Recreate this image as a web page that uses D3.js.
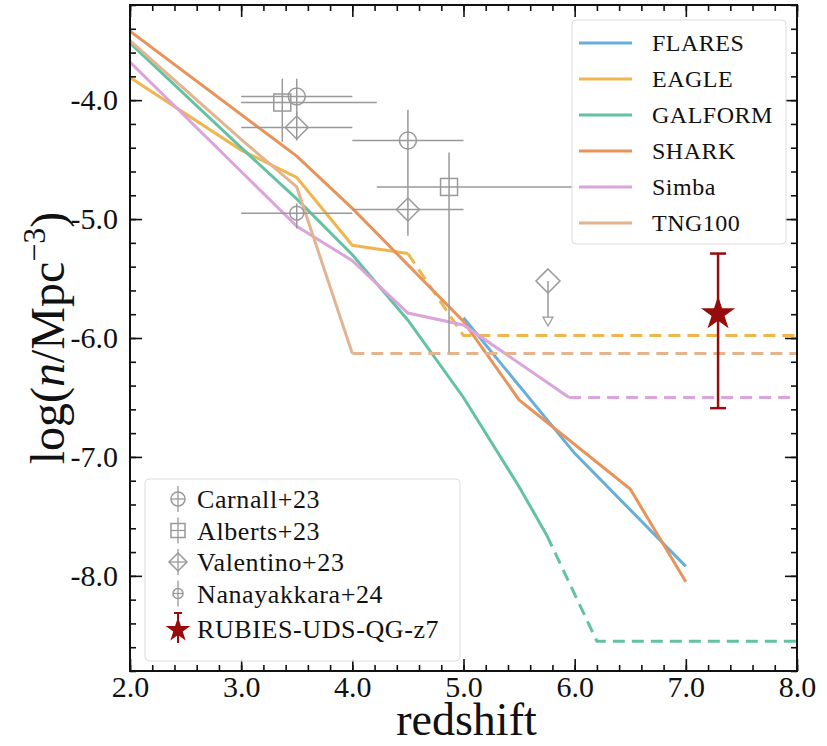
<!DOCTYPE html>
<html>
<head>
<meta charset="utf-8">
<script src="https://cdn.jsdelivr.net/npm/d3@7"></script>
<style>
  body { margin: 0; background: #fff; }
  text { font-family: "Liberation Serif", "Times New Roman", serif; fill: #111; }
</style>
</head>
<body>
<div id="chart"></div>
<script>
//// data (redshift, log n)
var flaresZ = [5.0, 6.0, 7.0];
var flaresV = [-5.83, -6.97, -7.92];

var eagleZ = [2.0, 3.0, 3.5, 4.0, 4.5];
var eagleV = [-3.81, -4.42, -4.65, -5.22, -5.29];
var eagleDashZ = [4.5, 5.0, 8.0];
var eagleDashV = [-5.29, -5.98, -5.98];

var galformZ = [2.0, 3.0, 3.5, 4.0, 4.5, 5.0, 5.5, 5.75];
var galformV = [-3.52, -4.40, -4.83, -5.30, -5.85, -6.50, -7.25, -7.66];
var galformDashZ = [5.75, 6.2, 8.0];
var galformDashV = [-7.66, -8.55, -8.55];

var sharkZ = [2.0, 3.5, 4.0, 5.0, 5.5, 6.5, 7.0];
var sharkV = [-3.42, -4.47, -4.91, -5.86, -6.52, -7.27, -8.05];

var simbaZ = [2.0, 3.0, 3.5, 4.0, 4.5, 5.0, 5.95];
var simbaV = [-3.68, -4.60, -5.06, -5.35, -5.79, -5.89, -6.50];
var simbaDashZ = [5.95, 8.0];
var simbaDashV = [-6.50, -6.50];

var tngZ = [2.0, 3.0, 3.5, 4.0];
var tngV = [-3.50, -4.33, -4.73, -6.13];
var tngDashZ = [4.0, 8.0];
var tngDashV = [-6.13, -6.13];

var modelNames = ["FLARES", "EAGLE", "GALFORM", "SHARK", "Simba", "TNG100"];
var modelColors = ["#67aed8", "#f0b54e", "#63c2a2", "#e8935a", "#dba4db", "#e2b48f"];

// observations: z, value, x-range, y-range
var carnallZ = [3.5, 4.5], carnallV = [-3.97, -4.34];
var carnallX = [[3.0, 4.0], [4.0, 5.0]], carnallY = [[-3.82, -4.12], [-4.08, -4.62]];
var albertsZ = [3.37, 4.87], albertsV = [-4.02, -4.73];
var albertsX = [[3.0, 4.22], [4.22, 6.0]], albertsY = [[-3.82, -4.35], [-4.44, -6.12]];
var valentinoZ = [3.5, 4.5], valentinoV = [-4.23, -4.92];
var valentinoX = [[3.0, 4.0], [4.0, 5.0]], valentinoY = [[-4.10, -4.34], [-4.62, -5.14]];
var valentinoLimZ = 5.76, valentinoLimV = -5.52, valentinoLimTo = -5.90;
var nanayZ = [3.5], nanayV = [-4.95];
var nanayX = [[3.0, 4.0]], nanayY = [[-4.87, -5.08]];
var rubiesZ = 7.29, rubiesV = -5.78, rubiesY = [-5.29, -6.59];

var obsNames = ["Carnall+23", "Alberts+23", "Valentino+23", "Nanayakkara+24", "RUBIES-UDS-QG-z7"];

var xTicks = [2, 3, 4, 5, 6, 7, 8];
var yTicks = [-8, -7, -6, -5, -4];

//// chart
var serif = "'Liberation Serif', 'Times New Roman', serif";
var margin = {top: 5, right: 30, bottom: 75, left: 130},
  width = 827 - margin.left - margin.right,
  height = 746 - margin.top - margin.bottom;

var svg = d3.select("#chart")
  .append("svg")
    .attr("width", 827)
    .attr("height", 746)
  .append("g")
    .attr("transform", "translate(" + margin.left + "," + margin.top + ")");

var x = d3.scaleLinear().domain([2, 8]).range([0, width]);
var y = d3.scaleLinear().domain([-8.8, -3.2]).range([height, 0]);

svg.append("clipPath").attr("id", "clip")
  .append("rect").attr("width", width).attr("height", height);

var line = d3.line().x(d => x(d[0])).y(d => y(d[1]));
var grey = "#999";

var plot = svg.append("g").attr("clip-path", "url(#clip)");

function drawLine(zs, vs, color, dashed) {
  plot.append("path")
    .datum(d3.zip(zs, vs))
    .attr("d", line)
    .attr("fill", "none")
    .attr("stroke", color)
    .attr("stroke-width", 3)
    .attr("stroke-dasharray", dashed ? "12,7" : null);
}

drawLine(flaresZ, flaresV, modelColors[0]);
drawLine(eagleZ, eagleV, modelColors[1]);
drawLine(eagleDashZ, eagleDashV, modelColors[1], true);
drawLine(galformZ, galformV, modelColors[2]);
drawLine(galformDashZ, galformDashV, modelColors[2], true);
drawLine(sharkZ, sharkV, modelColors[3]);
drawLine(simbaZ, simbaV, modelColors[4]);
drawLine(simbaDashZ, simbaDashV, modelColors[4], true);
drawLine(tngZ, tngV, modelColors[5]);
drawLine(tngDashZ, tngDashV, modelColors[5], true);

//// observations
function marker(g, type, cx, cy, s) {
  if (type == "circle") {
    g.append("circle").attr("cx", cx).attr("cy", cy).attr("r", s)
      .attr("fill", "none").attr("stroke", grey).attr("stroke-width", 1.5);
  } else if (type == "square") {
    g.append("rect").attr("x", cx - s).attr("y", cy - s)
      .attr("width", 2 * s).attr("height", 2 * s)
      .attr("fill", "none").attr("stroke", grey).attr("stroke-width", 1.5);
  } else if (type == "diamond") {
    g.append("path")
      .attr("d", "M" + cx + "," + (cy - s) + "L" + (cx + s) + "," + cy +
                 "L" + cx + "," + (cy + s) + "L" + (cx - s) + "," + cy + "Z")
      .attr("fill", "none").attr("stroke", grey).attr("stroke-width", 1.5);
  }
}

function drawObs(zs, vs, xr, yr, type, s) {
  var g = svg.append("g");
  zs.forEach(function(z, i) {
    g.append("line").attr("x1", x(xr[i][0])).attr("x2", x(xr[i][1]))
      .attr("y1", y(vs[i])).attr("y2", y(vs[i]))
      .attr("stroke", grey).attr("stroke-width", 1.5);
    g.append("line").attr("x1", x(z)).attr("x2", x(z))
      .attr("y1", y(yr[i][0])).attr("y2", y(yr[i][1]))
      .attr("stroke", grey).attr("stroke-width", 1.5);
    marker(g, type, x(z), y(vs[i]), s);
  });
}

drawObs(carnallZ, carnallV, carnallX, carnallY, "circle", 8.5);
drawObs(albertsZ, albertsV, albertsX, albertsY, "square", 8.5);
drawObs(valentinoZ, valentinoV, valentinoX, valentinoY, "diamond", 11.5);
drawObs(nanayZ, nanayV, nanayX, nanayY, "circle", 7);

// upper limit
var lim = svg.append("g");
lim.append("line")
  .attr("x1", x(valentinoLimZ)).attr("x2", x(valentinoLimZ))
  .attr("y1", y(valentinoLimV)).attr("y2", y(valentinoLimTo) - 9)
  .attr("stroke", grey).attr("stroke-width", 1.5);
lim.append("path")
  .attr("d", "M" + (x(valentinoLimZ) - 5) + "," + (y(valentinoLimTo) - 9) +
             "L" + (x(valentinoLimZ) + 5) + "," + (y(valentinoLimTo) - 9) +
             "L" + x(valentinoLimZ) + "," + y(valentinoLimTo) + "Z")
  .attr("fill", "#fff").attr("stroke", grey).attr("stroke-width", 1.2);
marker(lim, "diamond", x(valentinoLimZ), y(valentinoLimV), 12);

// RUBIES
var red = "#960c0c";
var rub = svg.append("g");
rub.append("line")
  .attr("x1", x(rubiesZ)).attr("x2", x(rubiesZ))
  .attr("y1", y(rubiesY[0])).attr("y2", y(rubiesY[1]))
  .attr("stroke", red).attr("stroke-width", 2.5);
rubiesY.forEach(function(v) {
  rub.append("line")
    .attr("x1", x(rubiesZ) - 8).attr("x2", x(rubiesZ) + 8)
    .attr("y1", y(v)).attr("y2", y(v))
    .attr("stroke", red).attr("stroke-width", 2.5);
});
rub.append("path")
  .attr("d", d3.symbol().type(d3.symbolStar).size(360)())
  .attr("transform", "translate(" + x(rubiesZ) + "," + (y(rubiesV) + 2) + ")")
  .attr("fill", red);

//// axes
function styleAxis(g) {
  g.select(".domain").remove();
  g.selectAll(".tick line").attr("stroke", "#111").attr("stroke-width", 1.6);
  g.selectAll(".tick text").style("font-size", "30px")
    .style("font-family", serif).attr("fill", "#222");
}

var xMinor = d3.range(2, 8.01, 0.2);
var yMinor = d3.range(-8.8, -3.19, 0.2);

svg.append("g").attr("transform", "translate(0," + height + ")")
  .call(d3.axisBottom(x).tickValues(xTicks).tickSize(-12).tickPadding(5)
    .tickFormat(d3.format(".1f")))
  .call(styleAxis);
svg.append("g").attr("transform", "translate(0," + height + ")")
  .call(d3.axisBottom(x).tickValues(xMinor).tickSize(-6).tickFormat(""))
  .call(styleAxis);
svg.append("g")
  .call(d3.axisTop(x).tickValues(xTicks).tickSize(-12).tickFormat(""))
  .call(styleAxis);
svg.append("g")
  .call(d3.axisTop(x).tickValues(xMinor).tickSize(-6).tickFormat(""))
  .call(styleAxis);

svg.append("g")
  .call(d3.axisLeft(y).tickValues(yTicks).tickSize(-12).tickPadding(12)
    .tickFormat(d => d3.format(".1f")(d).replace("−", "-")))
  .call(styleAxis);
svg.append("g")
  .call(d3.axisLeft(y).tickValues(yMinor).tickSize(-6).tickFormat(""))
  .call(styleAxis);
svg.append("g").attr("transform", "translate(" + width + ",0)")
  .call(d3.axisRight(y).tickValues(yTicks).tickSize(-12).tickFormat(""))
  .call(styleAxis);
svg.append("g").attr("transform", "translate(" + width + ",0)")
  .call(d3.axisRight(y).tickValues(yMinor).tickSize(-6).tickFormat(""))
  .call(styleAxis);

svg.append("rect")
  .attr("width", width).attr("height", height)
  .attr("fill", "none").attr("stroke", "#111").attr("stroke-width", 2);

// axis labels
svg.append("text")
  .attr("x", width / 2 + 3).attr("y", height + 64)
  .attr("text-anchor", "middle").style("font-size", "46px")
  .text("redshift");

var yl = svg.append("text")
  .attr("transform", "translate(-66," + (height / 2) + ") rotate(-90)")
  .attr("text-anchor", "middle").style("font-size", "48px");
yl.append("tspan").text("log(");
yl.append("tspan").attr("font-style", "italic").text("n");
yl.append("tspan").text("/Mpc");
yl.append("tspan").style("font-size", "32px").attr("dy", -19).text("−3");
yl.append("tspan").attr("dy", 19).text(")");

//// legend: models
var leg1 = svg.append("g").attr("transform", "translate(442,15)");
leg1.append("rect")
  .attr("width", 214).attr("height", 224).attr("rx", 4)
  .attr("fill", "#fff").attr("fill-opacity", 0.85)
  .attr("stroke", "#ddd").attr("stroke-width", 1);
modelNames.forEach(function(name, i) {
  var ly = 23 + i * 36;
  leg1.append("line").attr("x1", 7).attr("x2", 60).attr("y1", ly).attr("y2", ly)
    .attr("stroke", modelColors[i]).attr("stroke-width", 3);
  leg1.append("text").attr("x", 80).attr("y", ly + 8)
    .style("font-size", "24px").style("letter-spacing", "0.5px").text(name);
});

//// legend: observations
var leg2 = svg.append("g").attr("transform", "translate(15,474)");
leg2.append("rect")
  .attr("width", 315).attr("height", 182).attr("rx", 4)
  .attr("fill", "#fff").attr("fill-opacity", 0.85)
  .attr("stroke", "#ddd").attr("stroke-width", 1);
var obsTypes = ["circle", "square", "diamond", "circle"];
var obsSizes = [7, 7, 9, 5];
obsNames.forEach(function(name, i) {
  var ly = i < 4 ? 20 + i * 31.5 : 150;
  var mx = 33;
  if (i < 4) {
    leg2.append("line").attr("x1", mx).attr("x2", mx).attr("y1", ly - 13).attr("y2", ly + 13)
      .attr("stroke", grey).attr("stroke-width", 1.3);
    leg2.append("line").attr("x1", mx - obsSizes[i]).attr("x2", mx + obsSizes[i]).attr("y1", ly).attr("y2", ly)
      .attr("stroke", grey).attr("stroke-width", 1.3);
    marker(leg2, obsTypes[i], mx, ly, obsSizes[i]);
  } else {
    leg2.append("line").attr("x1", mx).attr("x2", mx).attr("y1", ly - 16).attr("y2", ly + 14)
      .attr("stroke", red).attr("stroke-width", 2);
    leg2.append("line").attr("x1", mx - 4).attr("x2", mx + 4).attr("y1", ly - 16).attr("y2", ly - 16)
      .attr("stroke", red).attr("stroke-width", 2);
    leg2.append("path")
      .attr("d", d3.symbol().type(d3.symbolStar).size(190)())
      .attr("transform", "translate(" + mx + "," + (ly + 1) + ")")
      .attr("fill", red);
  }
  leg2.append("text").attr("x", 52).attr("y", ly + 9)
    .style("font-size", "26px").style("letter-spacing", "0.6px").text(name);
});
</script>
</body>
</html>
